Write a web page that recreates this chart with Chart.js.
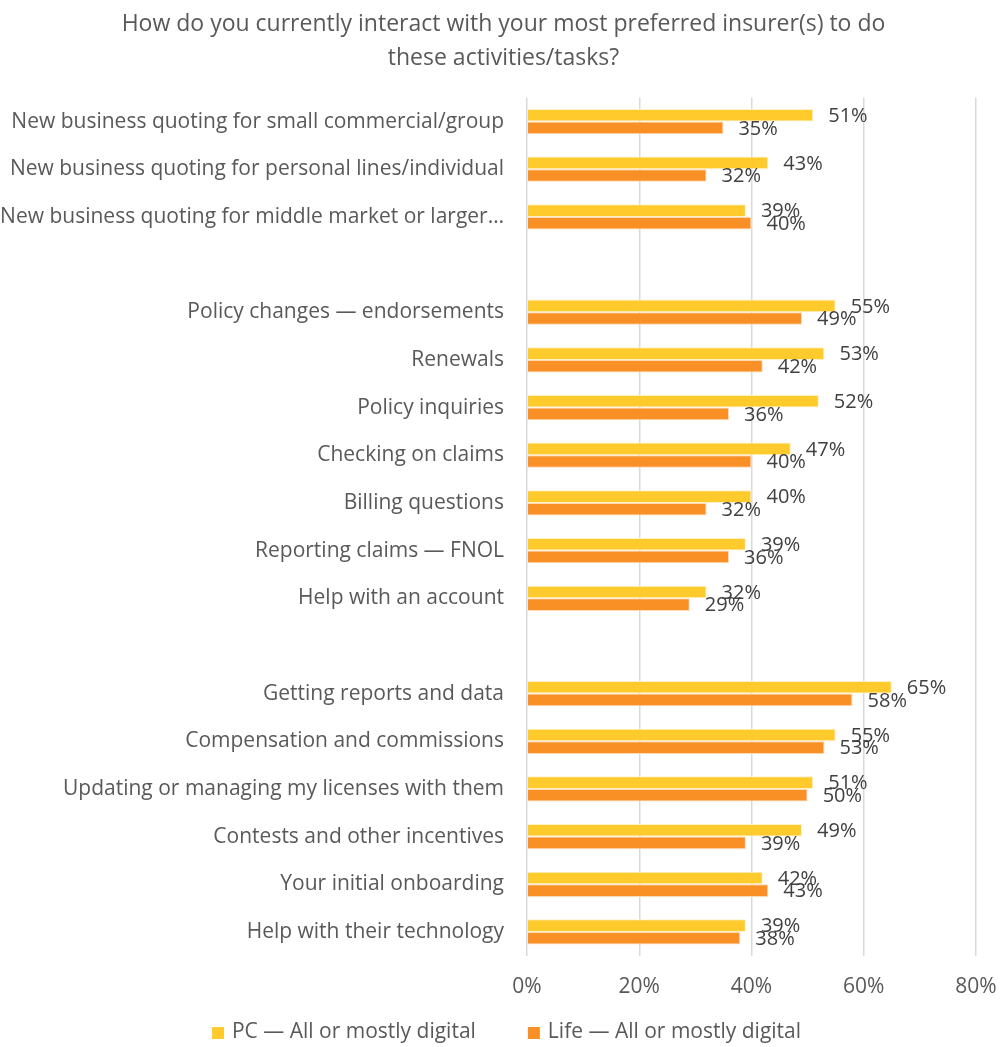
<!DOCTYPE html>
<html>
<head>
<meta charset="utf-8">
<script src="https://cdn.jsdelivr.net/npm/chart.js@4"></script>
<style>
html,body{margin:0;padding:0;background:#fff;}
#wrap{width:1007px;height:1047px;position:relative;}
</style>
</head>
<body>
<div id="wrap"><canvas id="c"></canvas></div>
<script>
const categories = [
  "New business quoting for small commercial/group",
  "New business quoting for personal lines/individual",
  "New business quoting for middle market or larger…",
  "",
  "Policy changes — endorsements",
  "Renewals",
  "Policy inquiries",
  "Checking on claims",
  "Billing questions",
  "Reporting claims — FNOL",
  "Help with an account",
  "",
  "Getting reports and data",
  "Compensation and commissions",
  "Updating or managing my licenses with them",
  "Contests and other incentives",
  "Your initial onboarding",
  "Help with their technology"
];
const pcValues   = [51, 43, 39, null, 55, 53, 52, 47, 40, 39, 32, null, 65, 55, 51, 49, 42, 39];
const lifeValues = [35, 32, 40, null, 49, 42, 36, 40, 32, 36, 29, null, 58, 53, 50, 39, 43, 38];
const seriesNames = ["PC — All or mostly digital", "Life — All or mostly digital"];
const seriesColors = ["#FFCA2C", "#F99026"];
const titleLines = ["How do you currently interact with your most preferred insurer(s) to do", "these activities/tasks?"];

const FONT = "'Open Sans', 'Noto Sans', sans-serif";

const labelPlugin = {
  id: 'barLabels',
  afterDatasetsDraw(chart) {
    const ctx = chart.ctx;
    ctx.save();
    ctx.font = "20px " + FONT;
    ctx.fillStyle = "#404040";
    ctx.textAlign = "left";
    ctx.textBaseline = "middle";
    chart.data.datasets.forEach((ds, di) => {
      const meta = chart.getDatasetMeta(di);
      meta.data.forEach((el, i) => {
        const v = ds.data[i];
        if (v === null || v === undefined) return;
        ctx.fillText(v + "%", el.x + 15, el.y + 1);
      });
    });
    ctx.restore();
  }
};

const legendPlugin = {
  id: 'customLegend',
  afterDraw(chart) {
    const ctx = chart.ctx;
    ctx.save();
    ctx.font = "21px " + FONT;
    ctx.textBaseline = "middle";
    ctx.textAlign = "left";
    const box = 12, gapText = 8, gapItem = 52;
    const ds = chart.data.datasets;
    const widths = ds.map(d => ctx.measureText(d.label).width);
    let total = 0;
    widths.forEach((w, i) => { total += box + gapText + w + (i < widths.length - 1 ? gapItem : 0); });
    let x = chart.width / 2 + 3 - total / 2;
    const y = chart.height - 15;
    ds.forEach((d, i) => {
      ctx.fillStyle = d.backgroundColor;
      ctx.fillRect(x, y - box / 2 + 1, box, box);
      x += box + gapText;
      ctx.fillStyle = '#595959';
      ctx.fillText(d.label, x, y);
      x += widths[i] + gapItem;
    });
    ctx.restore();
  }
};

new Chart(document.getElementById('c'), {
  type: 'bar',
  data: {
    labels: categories,
    datasets: [
      { label: seriesNames[0], data: pcValues, backgroundColor: seriesColors[0], borderColor: '#FFF2C8', borderWidth: 1, categoryPercentage: 0.53, barPercentage: 1.0 },
      { label: seriesNames[1], data: lifeValues, backgroundColor: seriesColors[1], borderColor: '#FDD9B5', borderWidth: 1, categoryPercentage: 0.53, barPercentage: 1.0 }
    ]
  },
  options: {
    indexAxis: 'y',
    responsive: true,
    maintainAspectRatio: false,
    animation: false,
    layout: { padding: { left: 0, right: 0, top: 6, bottom: 28 } },
    scales: {
      x: {
        min: 0, max: 80,
        ticks: { stepSize: 20, color: '#595959', font: { size: 21, family: FONT }, padding: 19, callback: v => v + '%' },
        grid: { color: '#D9D9D9', lineWidth: 1.5, drawTicks: false },
        border: { display: false },
        afterFit: (scale) => { scale.paddingRight = 31; }
      },
      y: {
        ticks: { color: '#595959', font: { size: 21, family: FONT }, padding: 23, autoSkip: false },
        grid: { display: false, drawTicks: false },
        border: { display: false },
        afterFit: (scale) => { scale.width = 527; }
      }
    },
    plugins: {
      title: { display: true, text: titleLines, color: '#595959', font: { size: 23, family: FONT, weight: 'normal', lineHeight: 1.45 }, padding: { top: 2, bottom: 23 } },
      legend: { display: false },
      tooltip: { enabled: false }
    }
  },
  plugins: [labelPlugin, legendPlugin]
});
</script>
</body>
</html>
